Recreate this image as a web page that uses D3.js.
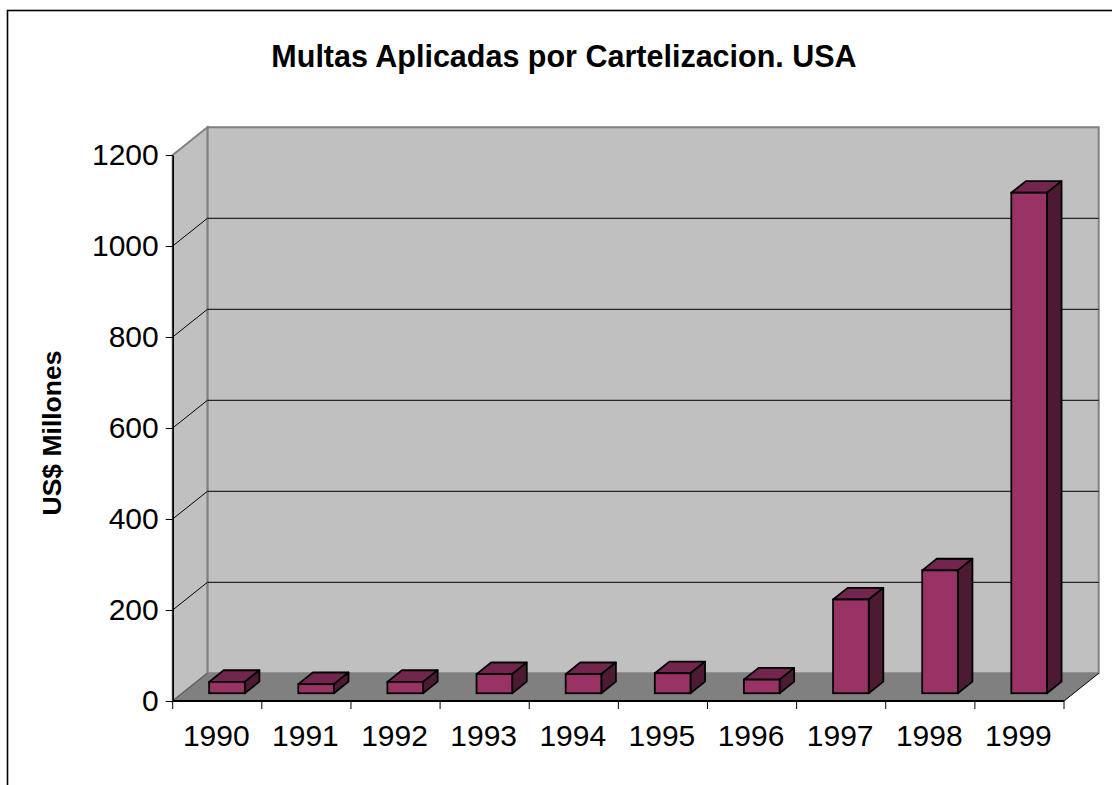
<!DOCTYPE html>
<html>
<head>
<meta charset="utf-8">
<script src="https://cdn.jsdelivr.net/npm/d3@7/dist/d3.min.js"></script>
<style>
  html, body { margin: 0; padding: 0; background: #fff; }
  svg { display: block; }
  text { font-family: "Liberation Sans", Arial, sans-serif; fill: #000; }
</style>
</head>
<body>
<svg id="chart" width="1112" height="785"></svg>
<script>
// ---- Data ----
const years = ["1990","1991","1992","1993","1994","1995","1996","1997","1998","1999"];
const values = [25, 20, 25, 42, 42, 44, 30, 206, 270, 1100];
const yTicks = [0, 200, 400, 600, 800, 1000, 1200];
const titleText = "Multas Aplicadas por Cartelizacion. USA";
const yAxisTitle = "US$ Millones";

// ---- Layout ----
const pLeft = 172.7, pRight = 1064, pBottom = 701, pTop = 155;
const DX = 34.7, DY = -27.7;       // depth of the 3D box
const f1 = 0.28, f2 = 0.70;        // bar depth start/end fractions
const barFrac = 0.40;              // bar width as fraction of band

const svg = d3.select("#chart");

const x = d3.scaleBand().domain(years).range([pLeft, pRight]).paddingInner(0).paddingOuter(0);
const y = d3.scaleLinear().domain([0, 1200]).range([pBottom, pTop]);

const pt = (px, py) => px.toFixed(2) + "," + py.toFixed(2);

// Outer frame
svg.append("rect")
  .attr("x", 7.5).attr("y", 10.5).attr("width", 1200).attr("height", 1000)
  .attr("fill", "none").attr("stroke", "#000").attr("stroke-width", 1.6);

// Back wall
svg.append("polygon")
  .attr("points", [pt(pLeft+DX, pTop+DY), pt(pRight+DX, pTop+DY), pt(pRight+DX, pBottom+DY), pt(pLeft+DX, pBottom+DY)].join(" "))
  .attr("fill", "#c0c0c0").attr("stroke", "#808080").attr("stroke-width", 2);

// Side wall
svg.append("polygon")
  .attr("points", [pt(pLeft, pTop), pt(pLeft+DX, pTop+DY), pt(pLeft+DX, pBottom+DY), pt(pLeft, pBottom)].join(" "))
  .attr("fill", "#c0c0c0").attr("stroke", "#808080").attr("stroke-width", 2);

// Gridlines
const grid = yTicks.filter(v => v > 0 && v < 1200);
svg.append("g").selectAll("path").data(grid).join("path")
  .attr("d", v => `M${pt(pLeft, y(v))}L${pt(pLeft+DX, y(v)+DY)}L${pt(pRight+DX, y(v)+DY)}`)
  .attr("fill", "none").attr("stroke", "#000").attr("stroke-width", 1);

// Floor
svg.append("polygon")
  .attr("points", [pt(pLeft, pBottom), pt(pRight, pBottom), pt(pRight+DX, pBottom+DY), pt(pLeft+DX, pBottom+DY)].join(" "))
  .attr("fill", "#808080").attr("stroke", "none");
svg.append("line")
  .attr("x1", pRight).attr("y1", pBottom).attr("x2", pRight+DX).attr("y2", pBottom+DY)
  .attr("stroke", "#000").attr("stroke-width", 1);
svg.append("line")
  .attr("x1", pLeft).attr("y1", pBottom).attr("x2", pLeft+DX).attr("y2", pBottom+DY)
  .attr("stroke", "#555").attr("stroke-width", 1);

// Bars
const bw = x.bandwidth() * barFrac;
const bars = svg.append("g").selectAll("g").data(years.map((yr, i) => ({yr, v: values[i]}))).join("g");
bars.each(function(d) {
  const g = d3.select(this);
  const cx = x(d.yr) + x.bandwidth() / 2 + f1 * DX;
  const x0 = cx - bw / 2, x1 = cx + bw / 2;
  const yb = y(0) + f1 * DY, yt = y(d.v) + f1 * DY;
  const ddx = (f2 - f1) * DX, ddy = (f2 - f1) * DY;
  g.append("polygon")
    .attr("points", [pt(x0, yt), pt(x0+ddx, yt+ddy), pt(x1+ddx, yt+ddy), pt(x1, yt)].join(" "))
    .attr("fill", "#73264d").attr("stroke", "#000").attr("stroke-width", 1.8).attr("stroke-linejoin", "round");
  g.append("polygon")
    .attr("points", [pt(x1, yt), pt(x1+ddx, yt+ddy), pt(x1+ddx, yb+ddy), pt(x1, yb)].join(" "))
    .attr("fill", "#4d1a33").attr("stroke", "#000").attr("stroke-width", 1.8).attr("stroke-linejoin", "round");
  g.append("rect")
    .attr("x", x0).attr("y", yt).attr("width", bw).attr("height", yb - yt)
    .attr("fill", "#993366").attr("stroke", "#000").attr("stroke-width", 1.8);
});

// Front axis line
svg.append("line")
  .attr("x1", pLeft).attr("y1", pBottom).attr("x2", pRight).attr("y2", pBottom)
  .attr("stroke", "#000").attr("stroke-width", 2);

// X ticks at band boundaries
const bounds = years.map(yr => x(yr)).concat([pRight]);
svg.append("g").selectAll("line").data(bounds).join("line")
  .attr("x1", d => d).attr("x2", d => d).attr("y1", pBottom).attr("y2", pBottom + 8)
  .attr("stroke", "#000").attr("stroke-width", 1);

// X labels
svg.append("g").selectAll("text").data(years).join("text")
  .attr("x", d => x(d) + x.bandwidth() / 2 - 1)
  .attr("y", 745.5)
  .attr("text-anchor", "middle")
  .style("font-size", "30px")
  .text(d => d);

// Y axis
const yAxis = d3.axisLeft(y).tickValues(yTicks).tickSize(7).tickSizeOuter(0).tickPadding(7).tickFormat(d3.format("d"));
const ga = svg.append("g").attr("transform", `translate(${pLeft},0)`).call(yAxis);
ga.select(".domain").attr("stroke", "#000").attr("stroke-width", 1.6);
ga.selectAll(".tick line").attr("stroke", "#000").attr("stroke-width", 1);
ga.selectAll(".tick text").style("font-size", "30px").style("font-family", "'Liberation Sans', Arial, sans-serif").attr("fill", "#000");

// Titles
svg.append("text")
  .attr("x", 564).attr("y", 67)
  .attr("text-anchor", "middle")
  .style("font-size", "30.5px").style("font-weight", "bold")
  .text(titleText);

svg.append("text")
  .attr("transform", "translate(61,433) rotate(-90)")
  .attr("text-anchor", "middle")
  .style("font-size", "26.5px").style("font-weight", "bold")
  .text(yAxisTitle);
</script>
</body>
</html>
